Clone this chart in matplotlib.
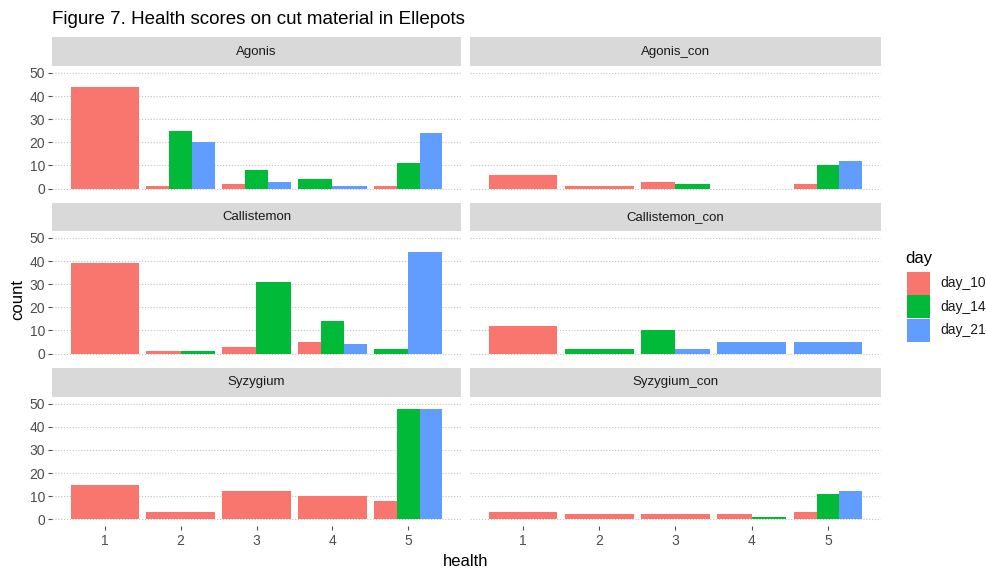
import matplotlib
matplotlib.use("Agg")
import matplotlib.pyplot as plt
from matplotlib.patches import Rectangle

plt.rcParams["font.family"] = ["Liberation Sans", "DejaVu Sans"]

# Counts per facet, for health scores 1..5 (0 = no observations)
facets = ["Agonis", "Agonis_con", "Callistemon", "Callistemon_con", "Syzygium", "Syzygium_con"]
health = [1, 2, 3, 4, 5]
days = ["day_10", "day_14", "day_21"]
day_10 = [[44, 1, 2, 0, 1], [6, 1, 3, 0, 2], [39, 1, 3, 5, 0],
          [12, 0, 0, 0, 0], [15, 3, 12, 10, 8], [3, 2, 2, 2, 3]]
day_14 = [[0, 25, 8, 4, 11], [0, 0, 2, 0, 10], [0, 1, 31, 14, 2],
          [0, 2, 10, 0, 0], [0, 0, 0, 0, 48], [0, 0, 0, 1, 11]]
day_21 = [[0, 20, 3, 1, 24], [0, 0, 0, 0, 12], [0, 0, 0, 4, 44],
          [0, 0, 2, 5, 5], [0, 0, 0, 0, 48], [0, 0, 0, 0, 12]]
y_ticks = [0, 10, 20, 30, 40, 50]

colors = ["#F8766D", "#00BA38", "#619CFF"]
series = [day_10, day_14, day_21]

W, H = 986, 571
fig = plt.figure(figsize=(W / 100, H / 100), dpi=100)
fig.patch.set_facecolor("white")


def frac(x0, y0, x1, y1):
    """pixel box (top-left origin) -> figure fraction rect"""
    return [x0 / W, 1 - y1 / H, (x1 - x0) / W, (y1 - y0) / H]


cols = [(52, 461), (470, 881)]
rows = [(37, 66, 195.5), (203, 231, 360.5), (368, 397, 526)]

for k, name in enumerate(facets):
    r, c = divmod(k, 2)
    x0, x1 = cols[c]
    st, sb, pb = rows[r]

    # strip
    sax = fig.add_axes(frac(x0, st, x1, sb))
    sax.set_xlim(0, 1); sax.set_ylim(0, 1)
    sax.add_patch(Rectangle((0, 0), 1, 1, color="#D9D9D9", lw=0))
    sax.text(0.5, 0.5, name, ha="center", va="center", fontsize=9.5, color="#1A1A1A")
    sax.axis("off")

    ax = fig.add_axes(frac(x0, sb, x1, pb))
    ax.set_xlim(0.305, 5.695)
    ax.set_ylim(-3.0, 53.0)
    for s in ax.spines.values():
        s.set_visible(False)
    ax.set_yticks(y_ticks)
    for yv in y_ticks:
        ax.axhline(yv, color="#C4C4C4", lw=0.8, ls=(0, (1, 1.6)), zorder=0)

    # dodged bars
    for i, h in enumerate(health):
        present = [d for d in range(3) if series[d][k][i] > 0]
        n = len(present)
        if n == 0:
            continue
        w = 0.9 / n
        for j, d in enumerate(present):
            xc = h - 0.45 + (j + 0.5) * w
            ax.bar(xc, series[d][k][i], width=w, color=colors[d], lw=0, zorder=2)

    ax.tick_params(axis="y", length=3, width=0.8, color="#4D4D4D", labelsize=10,
                   labelcolor="#4D4D4D", pad=2)
    if c == 1:
        ax.tick_params(axis="y", length=0, labelleft=False)
    ax.set_xticks(health)
    if r == 2:
        ax.set_xticklabels([str(h) for h in health])
        ax.tick_params(axis="x", length=3, width=0.8, color="#4D4D4D", labelsize=10,
                       labelcolor="#4D4D4D", pad=3)
    else:
        ax.tick_params(axis="x", length=0, labelbottom=False)

fig.text(52 / W, 1 - 20 / H, "Figure 7. Health scores on cut material in Ellepots",
         fontsize=13.5, ha="left", va="center", color="black")
fig.text(466 / W, 1 - 561 / H, "health", fontsize=12, ha="center", va="center")
fig.text(18 / W, 1 - 300 / H, "count", fontsize=12, ha="center", va="center", rotation=90)

# legend
fig.text(905 / W, 1 - 258 / H, "day", fontsize=12, ha="left", va="center")
for d, lab in enumerate(days):
    top = 272 + d * 23.3
    lax = fig.add_axes(frac(907, top, 930, top + 23))
    lax.set_xlim(0, 1); lax.set_ylim(0, 1)
    lax.add_patch(Rectangle((0, 0), 1, 1, color=colors[d], lw=0))
    lax.axis("off")
    fig.text(940 / W, 1 - (top + 11.5) / H, lab, fontsize=10, ha="left", va="center",
             color="#1A1A1A")

fig.savefig("out.png", dpi=100)
